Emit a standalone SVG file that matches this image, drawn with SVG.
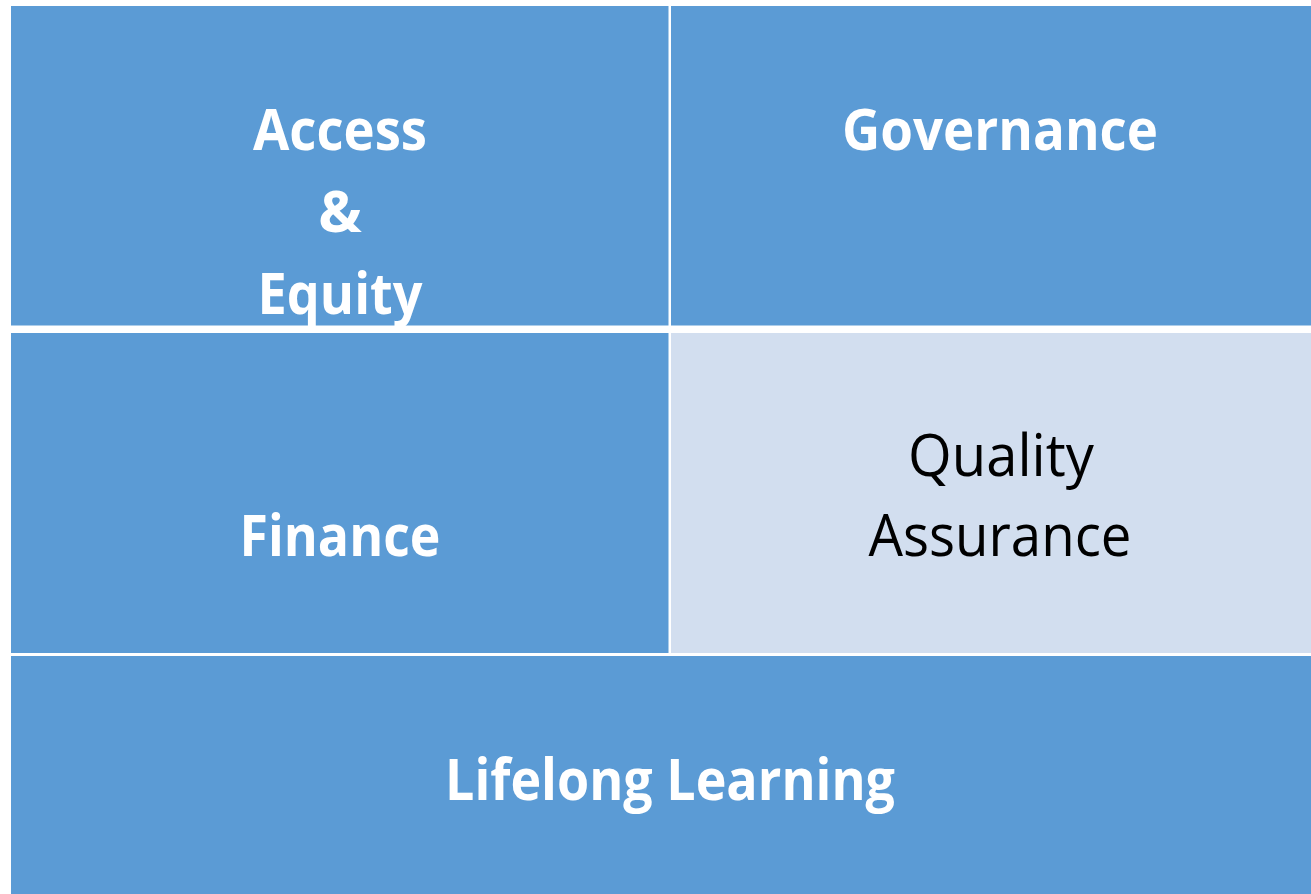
<svg xmlns="http://www.w3.org/2000/svg" width="1311" height="894" viewBox="0 0 1311 894">
<style>
.blue{fill:#5B9BD5}
.light{fill:#D2DEEF}
.t{font-family:"Open Sans","Liberation Sans",sans-serif;font-size:58px;text-anchor:middle}
.w{fill:#FFFFFF;font-weight:bold}
.k{fill:#000000;font-weight:normal}
</style>
<rect width="1311" height="894" fill="#FFFFFF"/>
<g id="access-equity">
<rect class="blue" x="11" y="6" width="657.5" height="319.5"/>
<text class="t w" x="340" y="150" textLength="174" lengthAdjust="spacingAndGlyphs">Access</text>
<text class="t w" x="340" y="232">&amp;</text>
<text class="t w" x="340" y="314" textLength="165" lengthAdjust="spacingAndGlyphs">Equity</text>
</g>
<g id="governance">
<rect class="blue" x="671" y="6" width="640" height="319.5"/>
<text class="t w" x="1000" y="150" textLength="316" lengthAdjust="spacingAndGlyphs">Governance</text>
</g>
<g id="finance">
<rect class="blue" x="11" y="333" width="657.5" height="320"/>
<text class="t w" x="340" y="556" textLength="201" lengthAdjust="spacingAndGlyphs">Finance</text>
</g>
<g id="quality-assurance">
<rect class="light" x="671" y="333" width="640" height="320"/>
<text class="t k" x="1001" y="476" textLength="186" lengthAdjust="spacingAndGlyphs">Quality</text>
<text class="t k" x="1000" y="556" textLength="263" lengthAdjust="spacingAndGlyphs">Assurance</text>
</g>
<g id="lifelong-learning">
<rect class="blue" x="11" y="656" width="1300" height="238"/>
<text class="t w" x="670" y="800" textLength="450" lengthAdjust="spacingAndGlyphs">Lifelong Learning</text>
</g>
<g id="connectors"/>
</svg>
